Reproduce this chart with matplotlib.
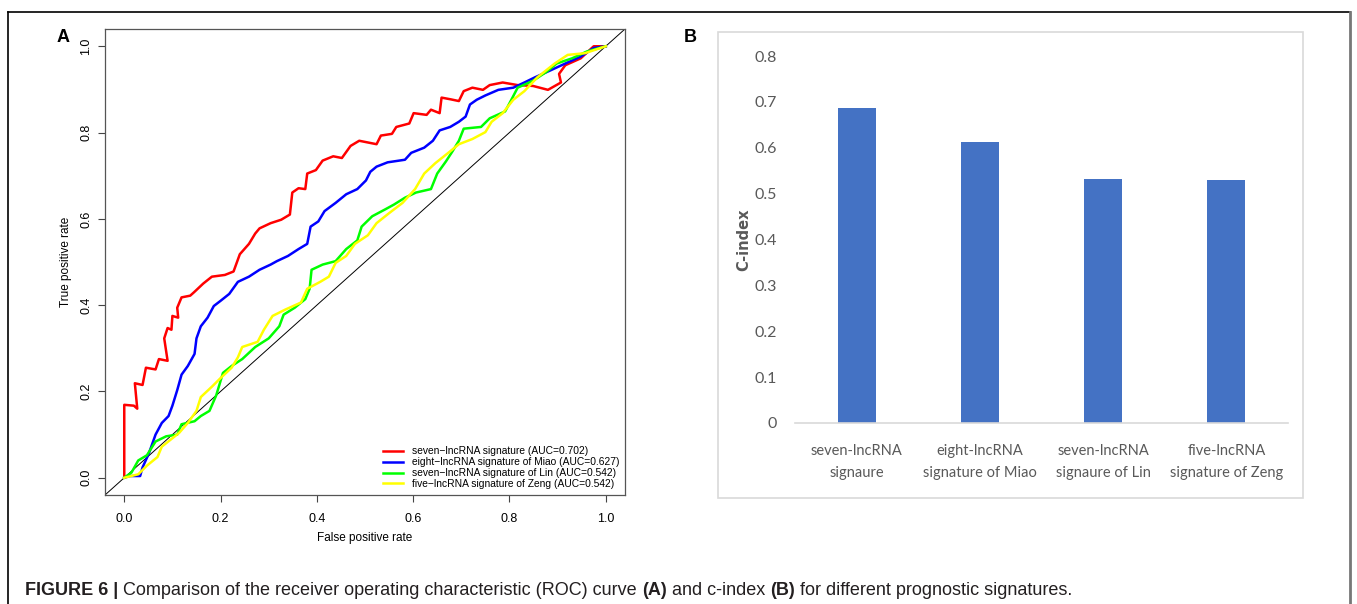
import numpy as np
from matplotlib import pyplot as plt
from matplotlib.lines import Line2D
from matplotlib.patches import Rectangle

# ROC curves
red_x = [0, 0, 0.02, 0.027, 0.022, 0.038, 0.045, 0.065, 0.072, 0.09, 0.083, 0.09, 0.098, 0.10, 0.112, 0.11, 0.119,
         0.137, 0.145, 0.164, 0.182, 0.209, 0.227, 0.24, 0.259, 0.272, 0.281, 0.304, 0.326, 0.344, 0.349, 0.362,
         0.376, 0.38, 0.398, 0.412, 0.434, 0.452, 0.47, 0.488, 0.506, 0.524, 0.533, 0.556, 0.565, 0.592, 0.601,
         0.628, 0.637, 0.655, 0.659, 0.678, 0.695, 0.705, 0.723, 0.745, 0.759, 0.786, 0.817, 0.849, 0.88, 0.907,
         0.903, 0.916, 0.948, 0.975, 1.0]
red_y = [0, 0.169, 0.167, 0.16, 0.219, 0.215, 0.255, 0.251, 0.275, 0.271, 0.323, 0.347, 0.343, 0.375, 0.371, 0.394,
         0.418, 0.422, 0.43, 0.45, 0.466, 0.47, 0.478, 0.518, 0.542, 0.566, 0.578, 0.59, 0.598, 0.61, 0.661, 0.671,
         0.669, 0.705, 0.713, 0.735, 0.745, 0.741, 0.769, 0.781, 0.777, 0.773, 0.793, 0.797, 0.813, 0.821, 0.845,
         0.841, 0.853, 0.845, 0.881, 0.877, 0.873, 0.896, 0.904, 0.899, 0.91, 0.916, 0.91, 0.908, 0.899, 0.916,
         0.936, 0.956, 0.972, 1.0, 1.0]

blue_x = [0, 0.012, 0.033, 0.038, 0.051, 0.065, 0.078, 0.092, 0.1, 0.11, 0.119, 0.132, 0.146, 0.15, 0.159, 0.173,
          0.186, 0.2, 0.218, 0.236, 0.259, 0.281, 0.304, 0.317, 0.34, 0.362, 0.38, 0.387, 0.403, 0.416, 0.439,
          0.461, 0.484, 0.502, 0.511, 0.524, 0.547, 0.583, 0.596, 0.623, 0.641, 0.655, 0.677, 0.695, 0.709, 0.718,
          0.732, 0.75, 0.777, 0.808, 0.831, 0.853, 0.885, 0.916, 0.948, 0.975, 1.0]
blue_y = [0, 0.004, 0.004, 0.024, 0.056, 0.1, 0.127, 0.143, 0.167, 0.203, 0.239, 0.259, 0.287, 0.323, 0.351, 0.371,
          0.398, 0.41, 0.426, 0.454, 0.466, 0.482, 0.494, 0.502, 0.514, 0.53, 0.542, 0.582, 0.594, 0.618, 0.637,
          0.657, 0.669, 0.689, 0.709, 0.721, 0.731, 0.737, 0.753, 0.765, 0.781, 0.805, 0.813, 0.825, 0.837, 0.865,
          0.876, 0.886, 0.899, 0.904, 0.916, 0.928, 0.944, 0.96, 0.976, 0.996, 1.0]

green_x = [0, 0.015, 0.029, 0.047, 0.065, 0.087, 0.11, 0.119, 0.146, 0.159, 0.177, 0.191, 0.205, 0.223, 0.245,
           0.272, 0.3, 0.322, 0.331, 0.354, 0.376, 0.385, 0.389, 0.412, 0.439, 0.461, 0.484, 0.493, 0.515, 0.542,
           0.56, 0.583, 0.606, 0.637, 0.65, 0.668, 0.682, 0.695, 0.705, 0.741, 0.759, 0.791, 0.804, 0.817, 0.849,
           0.876, 0.898, 0.93, 0.961, 1.0]
green_y = [0, 0.012, 0.04, 0.052, 0.084, 0.096, 0.1, 0.124, 0.131, 0.143, 0.155, 0.191, 0.243, 0.259, 0.275,
           0.303, 0.323, 0.351, 0.378, 0.394, 0.414, 0.438, 0.482, 0.494, 0.502, 0.53, 0.55, 0.582, 0.606, 0.622,
           0.633, 0.649, 0.661, 0.669, 0.705, 0.733, 0.757, 0.781, 0.809, 0.813, 0.833, 0.849, 0.876, 0.904, 0.92,
           0.94, 0.96, 0.972, 0.988, 1.0]

yellow_x = [0, 0.029, 0.047, 0.069, 0.078, 0.096, 0.114, 0.132, 0.15, 0.159, 0.182, 0.2, 0.223, 0.236, 0.245,
            0.277, 0.29, 0.308, 0.335, 0.367, 0.38, 0.407, 0.425, 0.439, 0.461, 0.479, 0.506, 0.524, 0.551, 0.578,
            0.604, 0.623, 0.646, 0.673, 0.695, 0.723, 0.75, 0.763, 0.786, 0.808, 0.831, 0.858, 0.894, 0.921, 0.957,
            1.0]
yellow_y = [0, 0.008, 0.028, 0.048, 0.072, 0.088, 0.104, 0.127, 0.155, 0.187, 0.211, 0.231, 0.255, 0.279, 0.303,
            0.315, 0.343, 0.375, 0.39, 0.406, 0.438, 0.454, 0.466, 0.498, 0.514, 0.542, 0.562, 0.59, 0.614, 0.637,
            0.669, 0.705, 0.729, 0.753, 0.773, 0.785, 0.801, 0.825, 0.845, 0.876, 0.896, 0.928, 0.96, 0.98, 0.984,
            1.0]

roc_labels = ['seven\u2212lncRNA signature (AUC=0.702)',
              'eight\u2212lncRNA signature of Miao (AUC=0.627)',
              'seven\u2212lncRNA signature of Lin (AUC=0.542)',
              'five\u2212lncRNA signature of Zeng (AUC=0.542)']

# c-index bars
categories = ['seven-lncRNA\nsignaure', 'eight-lncRNA\nsignature of Miao',
              'seven-lncRNA\nsignaure of Lin', 'five-lncRNA\nsignature of Zeng']
cindex = [0.687, 0.612, 0.532, 0.530]

W, H = 1357, 604
fig = plt.figure(figsize=(W / 100, H / 100), dpi=100)
arial = ['Liberation Sans', 'DejaVu Sans']
narrow = ['Lato', 'DejaVu Sans']

def px(x0, y0, x1, y1):
    # top-left pixel box -> figure fraction rect
    return [x0 / W, 1 - y1 / H, (x1 - x0) / W, (y1 - y0) / H]

# outer frame
fig.add_artist(Line2D([8 / W, 1350 / W], [1 - 12 / H, 1 - 12 / H], color='black', lw=1.2))
fig.add_artist(Line2D([8 / W, 8 / W], [1 - 12 / H, 0], color='black', lw=1.2))
fig.add_artist(Line2D([1350 / W, 1350 / W], [1 - 12 / H, 0], color='#777777', lw=2))

# ---- panel A ----
axA = fig.add_axes(px(105, 29, 625, 495))
axA.plot([-0.1, 1.1], [-0.1, 1.1], color='black', lw=0.7)
axA.plot(red_x, red_y, color='#ff0000', lw=1.8, label=roc_labels[0])
axA.plot(blue_x, blue_y, color='#0000ff', lw=1.8, label=roc_labels[1])
axA.plot(green_x, green_y, color='#00ff00', lw=1.8, label=roc_labels[2])
axA.plot(yellow_x, yellow_y, color='#ffff00', lw=1.8, label=roc_labels[3])
axA.set_xlim(-0.04, 1.04)
axA.set_ylim(-0.04, 1.04)
ticks = [0, 0.2, 0.4, 0.6, 0.8, 1.0]
axA.set_xticks(ticks)
axA.set_yticks(ticks)
axA.set_xticklabels(['%.1f' % t for t in ticks], fontsize=9, family=arial)
axA.set_yticklabels(['%.1f' % t for t in ticks], fontsize=9, family=arial, rotation=90, va='center')
axA.tick_params(direction='out', length=5, width=0.8, color='#444444')
axA.tick_params(axis='x', pad=8)
axA.tick_params(axis='y', pad=4)
for s in axA.spines.values():
    s.set_color('#555555')
    s.set_linewidth(0.9)
axA.set_xlabel('False positive rate', fontsize=8.5, family=arial, labelpad=5)
axA.set_ylabel('True positive rate', fontsize=8.5, family=arial, labelpad=6)
leg = axA.legend(loc='lower right', bbox_to_anchor=((619 - 105) / 520, 0.013), frameon=False,
                 prop={'family': arial, 'size': 7.4}, borderaxespad=0, borderpad=0,
                 handlelength=2.0, handletextpad=0.8, labelspacing=0.08)
fig.text(63 / W, 1 - 38 / H, 'A', fontsize=13, fontweight='bold', family=arial, va='center', ha='center')

# ---- panel B ----
fig.add_artist(Rectangle((718 / W, 1 - 498 / H), (1303 - 718) / W, (498 - 32) / H,
                         transform=fig.transFigure, fill=False, ec='#d9d9d9', lw=1.2))
axB = fig.add_axes(px(795, 56, 1288, 423))
pos = np.arange(len(categories))
axB.bar(pos, cindex, width=0.31, color='#4472C4')
axB.set_xlim(-0.5, len(categories) - 0.5)
axB.set_ylim(0, 0.8)
axB.set_yticks(np.arange(0, 0.81, 0.1))
axB.set_yticklabels(['0'] + ['%.1f' % v for v in np.arange(0.1, 0.81, 0.1)], family=narrow, fontsize=11.5,
                    color='#595959')
axB.set_xticks(pos)
axB.set_xticklabels(categories, family=narrow, fontsize=10.5, color='#595959', linespacing=1.75)
axB.tick_params(axis='y', length=0, pad=13)
axB.tick_params(axis='x', length=0, pad=15)
for k in ['top', 'right', 'left']:
    axB.spines[k].set_visible(False)
axB.spines['bottom'].set_color('#d9d9d9')
axB.spines['bottom'].set_linewidth(1.2)
axB.set_ylabel('C-index', fontsize=10.5, fontweight='bold', color='#595959', labelpad=2)
fig.text(690 / W, 1 - 38 / H, 'B', fontsize=13, fontweight='bold', family=arial, va='center', ha='center')

# ---- caption ----
parts = [('FIGURE 6 | ', 'bold'), ('Comparison of the receiver operating characteristic (ROC) curve ', 'normal'),
         ('(A)', 'bold'), (' and c-index ', 'normal'), ('(B)', 'bold'),
         (' for different prognostic signatures.', 'normal')]
renderer = fig.canvas.get_renderer()
x = 25
for txt, w in parts:
    t = fig.text(x / W, 1 - 595 / H, txt, fontsize=13, fontweight=w, family=arial, va='baseline', ha='left',
                 color='#231f20')
    x += t.get_window_extent(renderer).width

fig.savefig('out.png', dpi=100)
